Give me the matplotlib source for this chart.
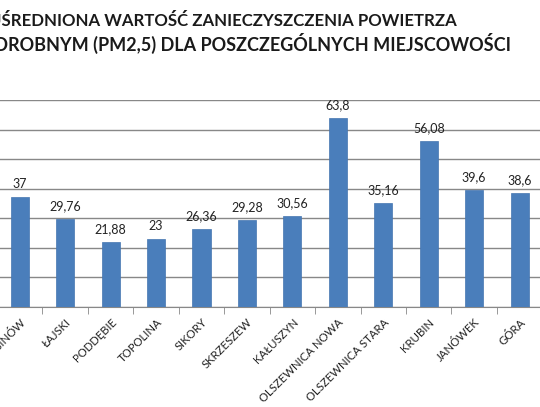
import matplotlib.pyplot as plt

# dane (widoczny fragment wykresu)
miejscowosci = ['MICHAŁÓW-REGINÓW', 'ŁAJSKI', 'PODDĘBIE', 'TOPOLINA', 'SIKORY',
                'SKRZESZEW', 'KAŁUSZYN', 'OLSZEWNICA NOWA', 'OLSZEWNICA STARA',
                'KRUBIN', 'JANÓWEK', 'GÓRA']
pm25 = [37, 29.76, 21.88, 23, 26.36, 29.28, 30.56, 63.8, 35.16, 56.08, 39.6, 38.6]
etykiety = ['37', '29,76', '21,88', '23', '26,36', '29,28', '30,56', '63,8',
            '35,16', '56,08', '39,6', '38,6']

plt.rcParams['font.family'] = ['Lato', 'DejaVu Sans']

W, H = 540, 407
fig = plt.figure(figsize=(W / 100, H / 100), dpi=100)

# wykres przyciety z lewej i prawej strony (jak na zrzucie)
x0 = 19.7 - 0.5 * 45.45
x1 = 19.7 + 11.5 * 45.45
ax = fig.add_axes([x0 / W, (H - 306.7) / H, (x1 - x0) / W, (306.7 - 100) / H])

x = list(range(len(pm25)))
ax.bar(x, pm25, width=0.4, color='#4A7EBB', edgecolor='#4575B0', linewidth=0.5, zorder=3)
for xi, v, t in zip(x, pm25, etykiety):
    ax.annotate(t, (xi, v), xytext=(0, 5), textcoords='offset points',
                ha='center', va='bottom', fontsize=9, color='#222222')

ax.set_xlim(-0.5, 11.5)
ax.set_ylim(0, 70)
ax.set_yticks(range(0, 71, 10))
ax.yaxis.grid(True, color='#888888', linewidth=1, zorder=0)
ax.tick_params(axis='y', length=0, labelleft=False)

ax.set_xticks(x)
ax.set_xticklabels(miejscowosci, rotation=45, ha='right', rotation_mode='anchor',
                   fontsize=8.2, color='#222222')
ax.set_xticks([i + 0.5 for i in range(-1, len(pm25))], minor=True)
ax.tick_params(axis='x', which='major', length=0, pad=7)
ax.tick_params(axis='x', which='minor', length=5, color='#888888')

for s in ['top', 'right', 'left']:
    ax.spines[s].set_visible(False)
ax.spines['bottom'].set_color('#888888')

# tytul (lewa czesc ucieta jak na zrzucie)
tytul1 = 'UŚREDNIONA WARTOŚĆ ZANIECZYSZCZENIA POWIETRZA'
tytul2 = 'PYŁEM DROBNYM (PM2,5) DLA POSZCZEGÓLNYCH MIEJSCOWOŚCI'
fig.text(457 / W, 1 - 26 / H, tytul1, ha='right', va='baseline', fontsize=12.1,
         fontweight='bold', color='#1a1a1a')
fig.text(511 / W, 1 - 51 / H, tytul2, ha='right', va='baseline', fontsize=13.0,
         fontweight='bold', color='#1a1a1a')

fig.savefig('out.png', dpi=100)
